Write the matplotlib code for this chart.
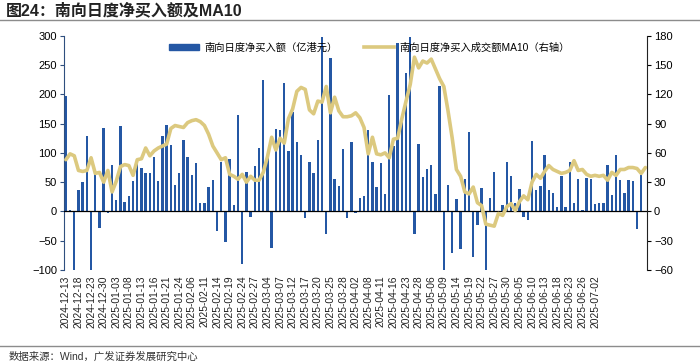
import numpy as np
import matplotlib
matplotlib.use('Agg')
import matplotlib.pyplot as plt
from matplotlib.lines import Line2D

plt.rcParams['font.family'] = ['Liberation Sans', 'Noto Sans CJK SC', 'DejaVu Sans']

# data (one value per trading day)
net_buy = [197, 3, -110, 37, 50, 128, -110, 65, -29, 143,
           -3, 80, 20, 146, 16, 27, 52, 83, 74, 65,
           65, 93, 52, 129, 148, 114, 46, 65, 122, 93,
           63, 83, 14, 15, 42, 53, -34, 84, -52, 90,
           11, 164, -89, 68, -9, 77, 108, 224, 97, -62,
           141, 139, 220, 104, 170, 119, 97, -11, 84, 65,
           122, 298, -39, 262, 55, 44, 106, -11, 118, -3,
           23, 26, 139, 84, 42, 82, 30, 199, 112, 287,
           154, 237, 298, -39, 115, 58, 72, 79, 30, 214,
           -110, 45, -70, 21, -64, 56, 135, -77, -23, 40,
           -102, 23, 68, 1, 11, 85, 60, 15, 39, -10,
           -15, 120, 36, 43, 97, 36, 32, 7, 61, 7,
           85, 14, 56, 2, 57, 56, 13, 14, 15, 79,
           28, 96, 54, 32, 53, 52, -30, 62, np.nan]

ma10 = [53, 59, 57, 42, 41, 42, 55, 39, 40, 30,
        42, 20, 31, 46, 48, 47, 37, 53, 54, 65,
        57, 62, 65, 67, 69, 85, 88, 87, 86, 91,
        93, 94, 92, 88, 79, 67, 60, 53, 55, 38,
        36, 33, 38, 30, 36, 32, 32, 40, 56, 76,
        63, 75, 70, 95, 105, 123, 127, 125, 104, 100,
        113, 112, 128, 101, 117, 103, 97, 97, 98, 101,
        96, 86, 59, 76, 59, 58, 60, 55, 74, 75,
        95, 113, 130, 158, 147, 154, 152, 156, 146, 136,
        128, 103, 75, 43, 36, 20, 18, 25, 9, 6,
        -13, -14, -15, -2, -4, 5, 8, 1, 10, 16,
        12, 30, 38, 34, 41, 47, 43, 41, 39, 40,
        42, 52, 42, 43, 38, 36, 37, 36, 37, 32,
        40, 37, 43, 43, 45, 45, 44, 39, 45]

tick_labels = ['2024-12-13', '2024-12-18', '2024-12-23', '2024-12-30', '2025-01-03',
               '2025-01-08', '2025-01-13', '2025-01-16', '2025-01-21', '2025-01-24',
               '2025-02-06', '2025-02-11', '2025-02-14', '2025-02-19', '2025-02-24',
               '2025-02-27', '2025-03-04', '2025-03-07', '2025-03-12', '2025-03-17',
               '2025-03-20', '2025-03-25', '2025-03-28', '2025-04-02', '2025-04-08',
               '2025-04-11', '2025-04-16', '2025-04-23', '2025-04-28', '2025-05-06',
               '2025-05-09', '2025-05-14', '2025-05-19', '2025-05-22', '2025-05-27',
               '2025-05-30', '2025-06-05', '2025-06-10', '2025-06-13', '2025-06-18',
               '2025-06-23', '2025-06-26', '2025-07-02']

bar_color = '#2457A4'
line_color = '#DCC97F'

x = np.arange(len(net_buy))

fig = plt.figure(figsize=(7, 3.64), dpi=100)

# title and frame lines
fig.text(0.008, 0.972, '图24：南向日度净买入额及MA10', fontsize=11.5, fontweight='bold',
         color='#222222', va='center')
fig.add_artist(Line2D([0, 1], [0.946, 0.946], color='#8c8c8c', lw=1))
fig.add_artist(Line2D([0, 1], [0.05, 0.05], color='#8c8c8c', lw=1))
fig.text(0.012, 0.02, '数据来源：Wind，广发证券发展研究中心', fontsize=7.5,
         color='#333333', va='center')

ax = fig.add_axes([0.0914, 0.258, 0.833, 0.644])
ax.bar(x, net_buy, width=0.58, color=bar_color, zorder=2)
ax.axhline(0, color='black', lw=0.9, zorder=3)
ax.set_ylim(-100, 300)
ax.set_yticks(range(-100, 301, 50))
ax.set_xlim(-0.45, 138.4)
ax.set_xticks(x[::3][:len(tick_labels)])
ax.set_xticklabels(tick_labels, rotation=90, fontsize=7.4, color='#222222')
ax.tick_params(axis='x', length=0, pad=4)
ax.tick_params(axis='y', labelsize=8, length=3, color='#2F4F7F', pad=2)

ax2 = ax.twinx()
ax2.plot(x, ma10, color=line_color, lw=2.6, solid_capstyle='round', zorder=4)
ax2.set_ylim(-60, 180)
ax2.set_yticks(range(-60, 181, 30))
ax2.tick_params(axis='y', labelsize=8, length=3, pad=2)

for a in (ax, ax2):
    a.spines['top'].set_visible(False)
    a.spines['bottom'].set_visible(False)
ax.spines['right'].set_visible(False)
ax.spines['left'].set_color('#2F4F7F')
ax2.spines['left'].set_visible(False)
ax2.spines['right'].set_color('#222222')

handles = [plt.Rectangle((0, 0), 1, 1, color=bar_color),
           Line2D([], [], color=line_color, lw=2.6)]
labels = ['南向日度净买入额（亿港元）', '南向日度净买入成交额MA10（右轴）']
ax2.legend(handles, labels, loc='upper left', bbox_to_anchor=(0.165, 1.01), ncol=2,
           frameon=False, fontsize=7.4, handlelength=2.9, handleheight=0.5,
           columnspacing=2.6, handletextpad=0.5)

fig.savefig('out.png', dpi=100)
